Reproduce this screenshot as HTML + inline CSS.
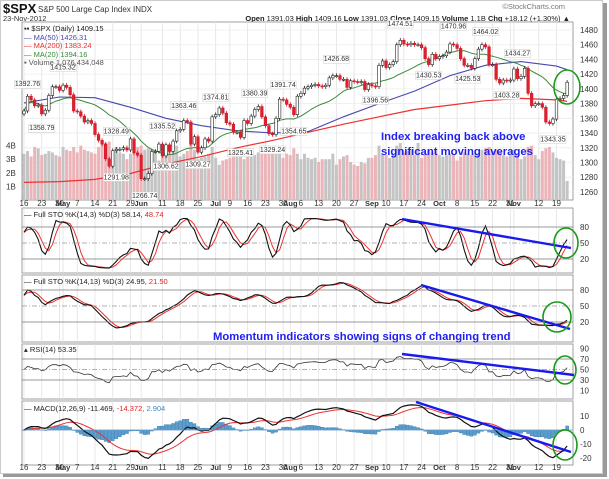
<!DOCTYPE html>
<html><head><meta charset="utf-8"><style>
html,body{margin:0;padding:0;background:#fff;}
svg{display:block;font-family:"Liberation Sans",sans-serif;}
</style></head><body>
<svg id="c" width="609" height="479" viewBox="0 0 609 479" xmlns="http://www.w3.org/2000/svg">
<rect x="0" y="0" width="609" height="479" fill="#fff"/>
<rect x="603" y="3" width="4" height="474" fill="#9a9a9a"/>
<rect x="3" y="474" width="604" height="3" fill="#9a9a9a"/>
<rect x="0.5" y="0.5" width="602" height="473" fill="#fff" stroke="#ccc"/>
<g id="hdr">
<text x="3" y="13" font-size="13" font-weight="bold" fill="#111">$SPX</text>
<text x="38" y="12" font-size="8" fill="#333">S&amp;P 500 Large Cap Index INDX</text>
<text x="565" y="9" font-size="7.5" fill="#777" text-anchor="end">©StockCharts.com</text>
<text x="3" y="21" font-size="7.5" fill="#333">23-Nov-2012</text>
<text x="570" y="21" font-size="7.5" fill="#222" text-anchor="end"><tspan font-weight="bold">Open</tspan> 1391.03 <tspan font-weight="bold">High</tspan> 1409.16 <tspan font-weight="bold">Low</tspan> 1391.03 <tspan font-weight="bold">Close</tspan> 1409.15 <tspan font-weight="bold">Volume</tspan> 1.1B <tspan font-weight="bold">Chg</tspan> +18.12 (+1.30%) ▲</text>
</g>
<g id="g"></g>
</svg>
<script>
const closes=[1370,1390,1385,1377,1378,1366,1371,1391,1403,1403,1398,
1405,1402,1392,1370,1369,1363,1355,1357,1353,1338,1330,1325,1305,1295,1316,1318,1318,1320,1317,1332,1313,1310,
1278,1278,1285,1315,1315,1325,1309,1324,1315,1329,1343,1345,1357,1355,1325,1335,1314,1320,1332,1329,1362,
1365,1374,1367,1354,1352,1341,1341,1334,1357,1353,1363,1372,1376,1362,1350,1339,1338,1360,1386,1385,1379,
1375,1365,1390,1394,1401,1403,1405,1406,1404,1403,1405,1415,1418,1418,1413,1413,1402,1411,1410,1409,1410,1399,1406,
1404,1403,1432,1438,1429,1433,1437,1460,1466,1461,1460,1462,1460,1460,1456,1441,1433,1447,1441,
1444,1445,1450,1461,1460,1455,1441,1432,1432,1428,1441,1454,1460,1457,1433,1433,1413,1408,1412,1411,1412,
1427,1414,1417,1428,1394,1377,1380,1380,1375,1355,1353,1359,1386,1387,1391,1409];
const volumes=[3.4,3.6,3.2,3.9,3.8,3.3,3.4,3.6,3.5,3.3,3.2,
3.9,3.7,3.6,3.9,3.5,4.0,3.7,3.6,3.5,3.4,3.9,4.1,4.2,4.3,3.6,3.9,3.5,3.4,3.0,3.4,3.9,3.9,
4.0,3.7,3.8,3.7,3.6,2.9,3.5,3.6,3.8,3.7,4.0,3.2,3.4,3.6,4.1,3.7,3.0,3.1,3.2,3.4,3.9,
3.1,2.6,2.9,3.0,3.1,3.3,3.2,3.6,3.0,3.2,3.2,3.3,3.5,3.8,3.6,3.4,3.6,3.9,3.7,3.1,3.4,
3.3,3.8,3.4,3.0,3.4,3.1,3.0,3.1,2.8,3.0,3.0,3.0,3.4,2.6,3.0,3.2,3.3,2.8,2.6,2.5,2.8,2.7,3.1,
3.1,3.3,4.0,3.4,3.3,3.1,3.4,4.0,4.2,3.5,3.6,3.7,3.3,4.2,3.1,3.4,3.6,3.5,3.7,
3.3,3.2,3.3,3.4,3.4,2.9,3.2,3.5,3.4,3.3,3.4,3.4,3.7,3.8,3.9,3.6,3.7,3.5,3.3,3.2,3.4,
3.7,3.4,3.0,3.2,3.9,4.0,3.3,3.0,3.6,3.8,3.9,3.5,3.1,3.0,2.9,1.4];
const maIdx=[0,10,20,30,40,50,60,70,80,90,100,110,120,130,140,150,153];
const ma50=[1381,1389,1388,1375,1360,1350,1343,1340,1342,1362,1380,1397,1418,1432,1437,1431,1426];
const ma200=[1273,1274,1277,1285,1298,1308,1320,1330,1341,1352,1362,1372,1378,1384,1387,1385,1383];
const priceTicks=[1260,1280,1300,1320,1340,1360,1380,1400,1420,1440,1460,1480];
const volTicks=[1,2,3,4];
const peakLabels=[[1,1392.76,1],[5,1358.79,0],[11,1415.32,1],[26,1328.49,1],[26,1291.98,0],[34,1266.74,0],[39,1335.52,1],[40,1306.62,0],[45,1363.46,1],[49,1309.27,0],[54,1374.81,1],[61,1325.41,0],[65,1380.39,1],[70,1329.24,0],[73,1391.74,1],[76,1354.65,0],[88,1426.68,1],[99,1396.56,0],[106,1474.51,1],[114,1430.53,0],[121,1470.96,1],[125,1425.53,0],[130,1464.02,1],[136,1403.28,0],[139,1434.27,1],[149,1343.35,0]];

const NS="http://www.w3.org/2000/svg";
const G=document.getElementById('g');
function mk(tag,attrs,parent){const e=document.createElementNS(NS,tag);for(const k in attrs)e.setAttribute(k,attrs[k]);(parent||G).appendChild(e);return e;}
const L=22,R=573,X0=24,STEP=3.55;
const xI=i=>X0+i*STEP;
const yP=p=>30+(1480-p)*0.736;
const yV=v=>200-v*13.6;
const yS1=v=>259-(v-20)*32/60;
const yS2=v=>322-(v-20)*32/60;
const yR=v=>380-(v-30)*21/40;
const yM=v=>430-v*1.4;
const N=closes.length;
const opens=closes.map((c,i)=>i?closes[i-1]:c-4);
const highs=closes.map((c,i)=>Math.max(c,opens[i])+3);
const lows=closes.map((c,i)=>Math.min(c,opens[i])-3);

const holidays=['2012-05-28','2012-07-04','2012-09-03','2012-10-29','2012-10-30','2012-11-22'];
const dates=[];let d=new Date(Date.UTC(2012,3,16));
while(dates.length<N){const dw=d.getUTCDay();const s=d.toISOString().slice(0,10);if(dw>0&&dw<6&&!holidays.includes(s))dates.push(new Date(d));d=new Date(d.getTime()+864e5);}
const months=['Jan','Feb','Mar','Apr','May','Jun','Jul','Aug','Sep','Oct','Nov','Dec'];
const ticks=[];let lastMonthIdx=-99;
for(let i=0;i<N;i++){const dt=dates[i];const newMonth=i>0&&dt.getUTCMonth()!==dates[i-1].getUTCMonth();
 const newWeek=i===0||(dt.getUTCDay()<=dates[i-1].getUTCDay())||(dt-dates[i-1]>3*864e5);
 if(newMonth){ticks.push([i,months[dt.getUTCMonth()],1]);lastMonthIdx=i;}
 else if(newWeek&&i-lastMonthIdx>=3){ticks.push([i,String(dt.getUTCDate()),0]);}}

const panels=[[22,200,'main'],[208,273,'sto1'],[275,342,'sto2'],[344,399,'rsi'],[401,465,'macd']];
const defs=mk('defs',{});
panels.forEach(p=>{const cp=mk('clipPath',{id:'cp-'+p[2]},defs);mk('rect',{x:L,y:p[0],width:R-L,height:p[1]-p[0]},cp);});
panels.forEach(p=>{
 const r=mk('rect',{x:L,y:p[0],width:R-L,height:p[1]-p[0],fill:'#fff',stroke:'#888','stroke-width':0.8});
 
 
 ticks.forEach(t=>{const ln=mk('line',{x1:xI(t[0]),x2:xI(t[0]),y1:p[0],y2:p[1],stroke:'#e2e2e2','stroke-width':0.8});
  
  });
});
function hline(y,dash,col,name){const l=mk('line',{x1:L,x2:R,y1:y,y2:y,stroke:col||'#999','stroke-width':0.8});if(dash)l.setAttribute('stroke-dasharray',dash);
 
 }
function rlabel(y,t,name){const e=mk('text',{x:580,y:y+3,'font-size':8,fill:'#333'});e.textContent=t;
 
 }
priceTicks.forEach(p=>{hline(yP(p),null,'#ececec','price-gridline');rlabel(yP(p),p,'price-tick-label');});
volTicks.forEach(v=>{const e=mk('text',{x:6,y:yV(v)+3,'font-size':8,fill:'#333'});e.textContent=v+'B';
 
 });
[206,470].forEach((yy,k)=>ticks.forEach(t=>{const e=mk('text',{x:xI(t[0]),y:yy,'font-size':t[2]?7.5:8,fill:'#333','text-anchor':'middle','font-weight':t[2]?'bold':'normal'});e.textContent=t[1];
 
 }));

const gm=mk('g',{'clip-path':'url(#cp-main)'});
volumes.forEach((v,i)=>{const b=mk('rect',{x:xI(i)-1.5,y:yV(v),width:3,height:200-yV(v),fill:closes[i]<opens[i]?'#ecb4b8':'#c4c4c4'},gm);
 
 });
function poly(vals,idx,yf,col,w,par,name){let s='';vals.forEach((v,k)=>{if(v==null)return;s+=(s?'L':'M')+xI(idx?idx[k]:k).toFixed(1)+','+yf(v).toFixed(1);});
 const p=mk('path',{d:s,fill:'none',stroke:col,'stroke-width':w||1},par);
 
 return p;}
const ma20=closes.map((c,i)=>{const s=closes.slice(Math.max(0,i-19),i+1);return s.reduce((a,b)=>a+b,0)/s.length;});
poly(ma200,maIdx,yP,'#ee3030',1.2,gm,'ma200-line');
poly(ma50,maIdx,yP,'#4848b0',1.1,gm,'ma50-line');
poly(ma20,null,yP,'#3a8a3a',1,gm,'ma20-line');
closes.forEach((c,i)=>{const o=opens[i],x=xI(i),down=c<o;
 const w=mk('line',{x1:x,x2:x,y1:yP(highs[i]),y2:yP(lows[i]),stroke:down?'#d01828':'#222','stroke-width':0.8},gm);
 
 
 const t=yP(Math.max(o,c)),h=Math.max(1,Math.abs(yP(o)-yP(c)));
 const b=mk('rect',{x:x-1.3,y:t,width:2.6,height:h,fill:down?'#e0202a':'#fff',stroke:down?'#d01828':'#222','stroke-width':0.6},gm);
 
 });
peakLabels.forEach(pl=>{const x=xI(pl[0]);const y=pl[2]?yP(pl[1])-8:yP(pl[1])+11;
 const r=mk('rect',{x:x-13,y:y-6,width:26,height:8,fill:'#fff',stroke:'#ccc','stroke-width':0.5});
 
 
 const e=mk('text',{x:x,y:y,'font-size':7,fill:'#333','text-anchor':'middle'});e.textContent=pl[1].toFixed(2);
 
 });

const fastK=closes.map((c,i)=>{const a=Math.max(0,i-13);const hh=Math.max(...highs.slice(a,i+1)),ll=Math.min(...lows.slice(a,i+1));return 100*(c-ll)/(hh-ll||1);});
const sma=(arr,n)=>arr.map((v,i)=>{const s=arr.slice(Math.max(0,i-n+1),i+1);return s.reduce((a,b)=>a+b,0)/s.length;});
const k1=sma(fastK,3),d1=sma(k1,3),k2=sma(fastK,13),d2=sma(k2,3);
let ag=6,al=6;const rsi=closes.map((c,i)=>{if(!i)return 50;const ch=c-closes[i-1];const g=Math.max(ch,0),l=Math.max(-ch,0);
 ag=(ag*13+g)/14;al=(al*13+l)/14;return 100-100/(1+ag/(al||1e-6));});
const ema=(arr,n)=>{const k=2/(n+1);let e=arr[0];return arr.map(v=>e=v*k+e*(1-k));};
const e12=ema(closes,12),e26=ema(closes,26);const macd=e12.map((v,i)=>v-e26[i]);const sig=ema(macd,9);const hist=macd.map((v,i)=>v-sig[i]);

const g1=mk('g',{'clip-path':'url(#cp-sto1)'});
hline(yS1(80),null,'#777','sto1-80-line');hline(yS1(20),null,'#777','sto1-20-line');hline(yS1(50),'5,2,1,2','#999','sto1-50-line');
[80,50,20].forEach(v=>rlabel(yS1(v),v,'sto1-tick-label'));
poly(d1,null,yS1,'#f03030',1,g1,'sto1-d-line');poly(k1,null,yS1,'#111',1.1,g1,'sto1-k-line');
const g2=mk('g',{'clip-path':'url(#cp-sto2)'});
hline(yS2(80),null,'#777','sto2-80-line');hline(yS2(20),null,'#777','sto2-20-line');hline(yS2(50),'5,2,1,2','#999','sto2-50-line');
[80,50,20].forEach(v=>rlabel(yS2(v),v,'sto2-tick-label'));
poly(d2,null,yS2,'#f03030',1,g2,'sto2-d-line');poly(k2,null,yS2,'#111',1.1,g2,'sto2-k-line');
const g3=mk('g',{'clip-path':'url(#cp-rsi)'});
hline(yR(70),null,'#777','rsi-70-line');hline(yR(30),null,'#777','rsi-30-line');hline(yR(50),'5,2,1,2','#999','rsi-50-line');
[90,70,50,30,10].forEach(v=>rlabel(yR(v),v,'rsi-tick-label'));
poly(rsi,null,yR,'#333',0.8,g3,'rsi-line');
const g4=mk('g',{'clip-path':'url(#cp-macd)'});
[10,0,-10,-20].forEach(v=>rlabel(yM(v),v,'macd-tick-label'));
hist.forEach((h,i)=>{const y=Math.min(yM(h),yM(0));const b=mk('rect',{x:xI(i)-1.6,y:y,width:3.2,height:Math.max(0.5,Math.abs(yM(h)-yM(0))),fill:'#5a9ed0',stroke:'#2a6a9a','stroke-width':0.3},g4);
 
 });
hline(yM(0),null,'#6aa0d0','macd-zero-line');
poly(sig,null,yM,'#f03030',1,g4,'macd-signal-line');poly(macd,null,yM,'#111',1.2,g4,'macd-line');

function leg(x,y,parts,name){const t=mk('text',{x:x,y:y,'font-size':7.5,fill:'#222'});
 
 
 parts.forEach(p=>{const s=mk('tspan',{fill:p[1]},t);s.textContent=p[0];});}
leg(24,31,[['▪▪ $SPX (Daily) 1409.15','#222']],'legend-spx');
leg(24,40,[['— MA(50) 1426.31','#4848b0']],'legend-ma50');
leg(24,48,[['— MA(200) 1383.24','#ee3030']],'legend-ma200');
leg(24,57,[['— MA(20) 1394.16','#3a8a3a']],'legend-ma20');
leg(24,65,[['▪ Volume 1,076,434,048','#555']],'legend-volume');
leg(24,217,[['— Full STO %K(14,3) %D(3) 58.14, ','#222'],['48.74','#e02020']],'legend-sto1');
leg(24,284,[['— Full STO %K(14,13) %D(3) 24.95, ','#222'],['21.50','#e02020']],'legend-sto2');
leg(24,352,[['▴ RSI(14) 53.35','#222']],'legend-rsi');
leg(24,411,[['— MACD(12,26,9) -11.469, ','#222'],['-14.372, ','#e02020'],['2.904','#3a8ac8']],'legend-macd');

function tl(x1,y1,x2,y2,name){const l=mk('line',{x1,y1,x2,y2,stroke:'#1a1aee','stroke-width':2.4});
 
 }
function el(cx,cy,rx,ry,name){const e=mk('ellipse',{cx,cy,rx,ry,fill:'none',stroke:'#1a9a1a','stroke-width':1.6});
 
 }
tl(402,219,571,248,'sto1-trendline');tl(421,285,570,329,'sto2-trendline');tl(402,354,574,375,'rsi-trendline');tl(416,402,571,452,'macd-trendline');
el(567,87,13,17,'price-highlight-circle');el(566,243,12,15,'sto1-highlight-circle');el(557,317,14,15,'sto2-highlight-circle');el(565,370,11,14,'rsi-highlight-circle');el(565,445,12,15,'macd-highlight-circle');
function note(x,y,t,name){const e=mk('text',{x,y,'font-size':11.3,'font-weight':'bold',fill:'#2020f0'});e.textContent=t;
 
 }
note(381,140,'Index breaking back above','annotation-index-line1');
note(381,155,'significant moving averages','annotation-index-line2');
note(213,340,'Momentum indicators showing signs of changing trend','annotation-momentum');
</script>
</body></html>
